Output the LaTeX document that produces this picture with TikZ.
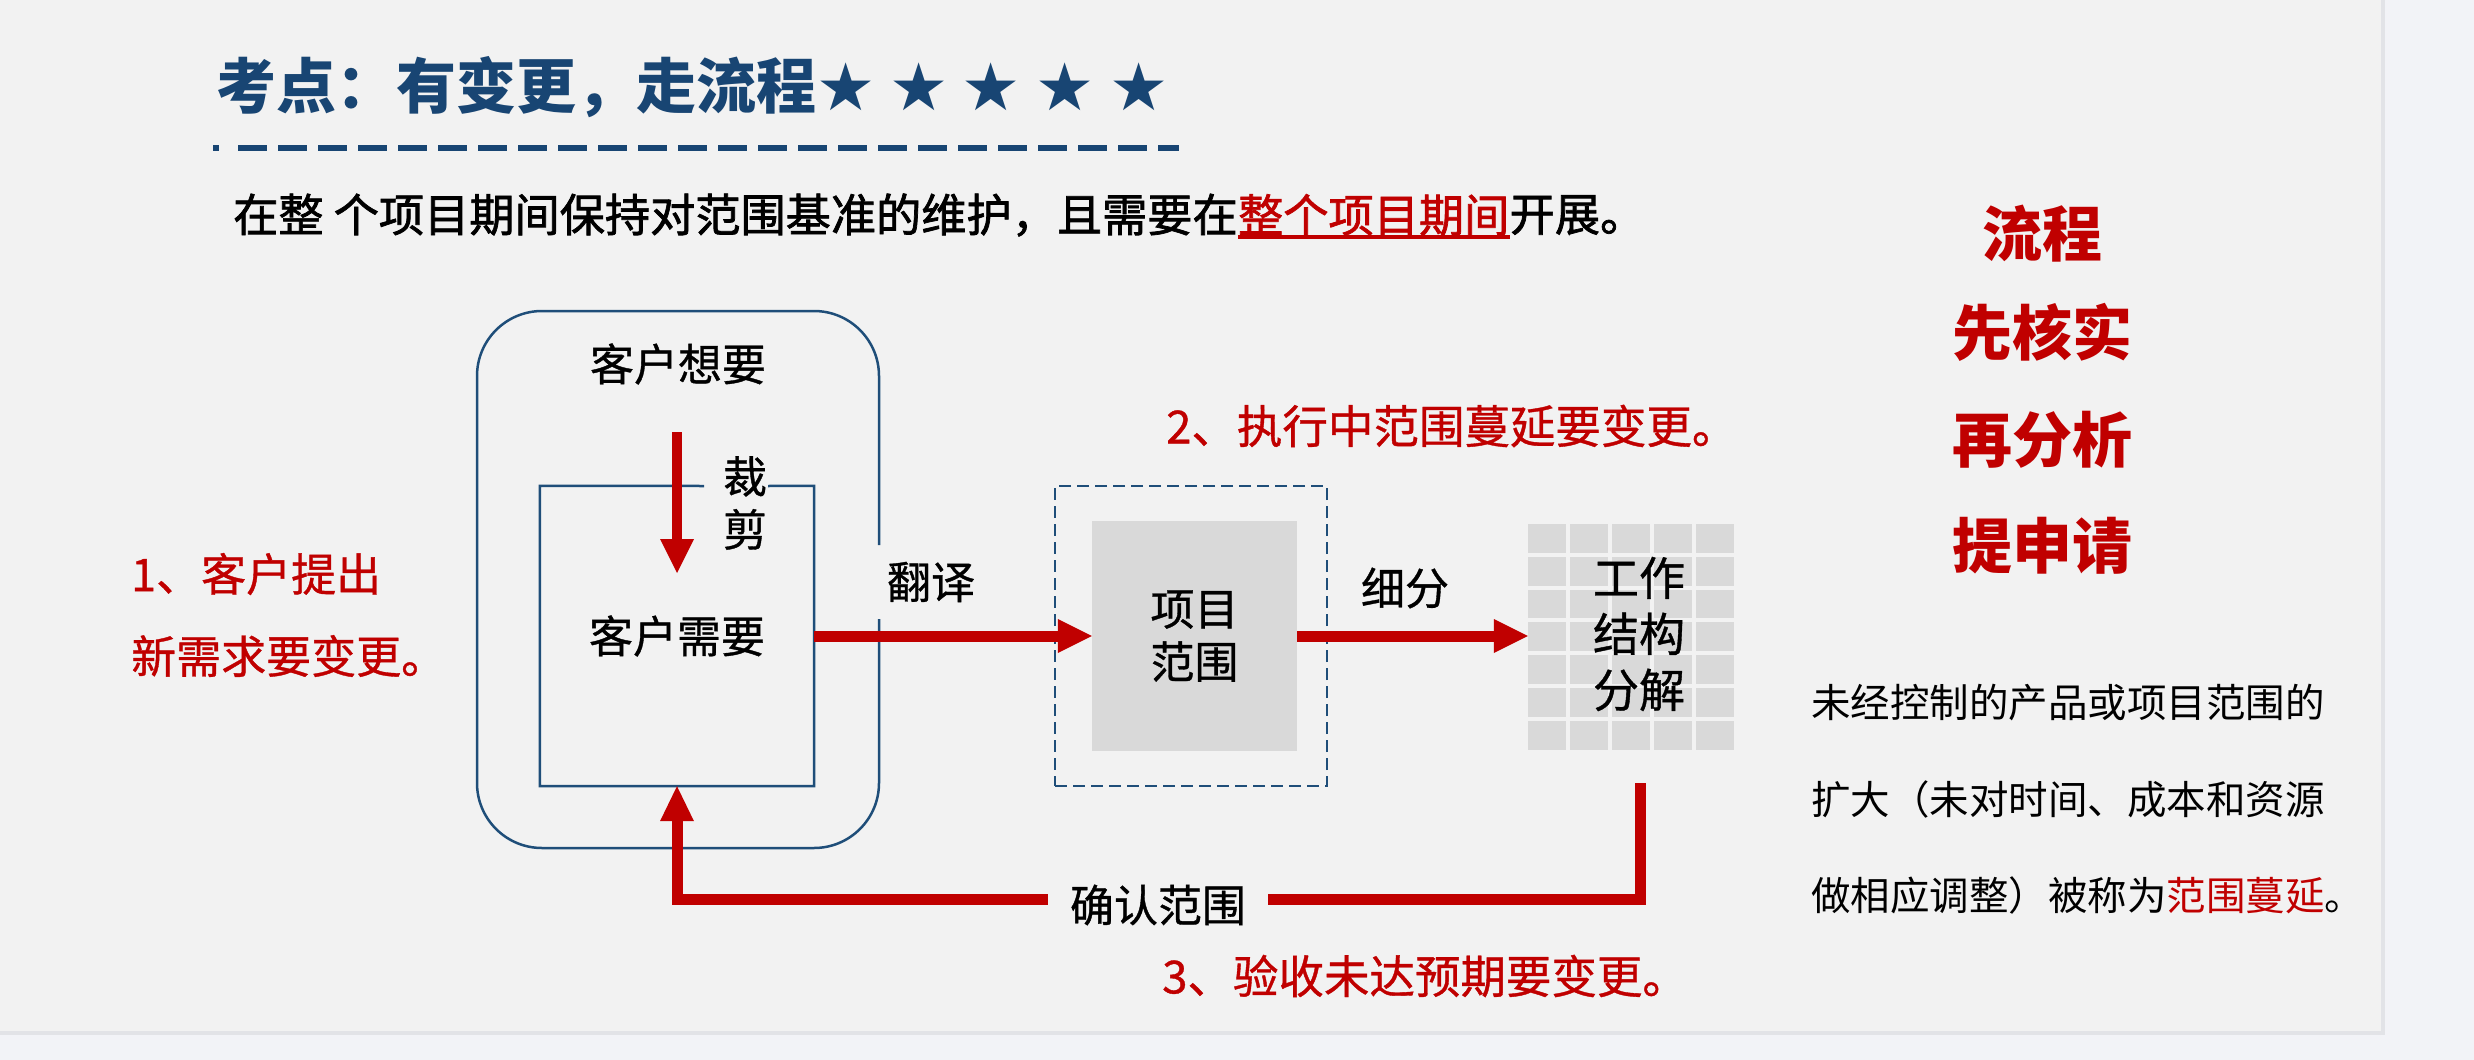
\documentclass[tikz,border=0pt]{standalone}
\usepackage{fontspec}
\setmainfont{Noto Sans CJK SC}
\newfontfamily\symfont{DejaVu Sans}
\newfontfamily\medfont[FakeBold=0.8]{Noto Sans CJK SC}
\newfontfamily\semifont[FakeBold=1.6]{Noto Sans CJK SC}
\usetikzlibrary{arrows.meta}
\definecolor{bluedk}{RGB}{31,78,121}
\definecolor{titleblue}{RGB}{24,69,115}
\definecolor{redc}{RGB}{192,0,0}
\definecolor{grayc}{RGB}{217,217,217}
\definecolor{panelc}{RGB}{242,242,242}
\definecolor{outerc}{RGB}{242,243,247}
\definecolor{shadowc}{RGB}{226,227,231}
\newcommand{\myfs}[2]{\fontsize{#1}{#2}\selectfont}
\begin{document}
\begin{tikzpicture}[x=1pt,y=-1pt,
  blueline/.style={draw=bluedk,line width=2.5pt},
  lbl/.style={inner sep=0pt,font=\medfont\myfs{44}{53}},
  redlbl/.style={inner sep=0pt,text=redc,font=\medfont\myfs{45.5}{52}},
  bigarrow/.style={draw=redc,line width=11pt,-{Triangle[length=34pt,width=34pt,line width=0pt]}},
  steplist/.style={inner sep=0pt,text=redc,font=\bfseries\myfs{60}{60}},
  deftext/.style={inner sep=0pt,anchor=west,font=\myfs{39.5}{40}},
  subtext/.style={inner sep=0pt,anchor=west,font=\semifont\myfs{45.2}{46}},
  starnode/.style={inner sep=0pt,text=titleblue,font=\symfont\myfs{66}{66}}]
\useasboundingbox (0,0) rectangle (2474,1060);
\fill[outerc] (0,0) rectangle (2474,1060);
\fill[shadowc] (0,0) rectangle (2385,1035);
\fill[panelc] (0,0) rectangle (2381,1031);

% title
\node[inner sep=0pt,anchor=west,text=titleblue,font=\bfseries\myfs{60}{60}] (title) at (216,87) {考点：有变更，走流程};
\foreach \sx [count=\i] in {846,919,991,1065,1139}
  \node[starnode] (star\i) at (\sx,87) {★};
\draw[titleblue,line width=6pt] (213,148) -- (219,148);
\draw[titleblue,line width=6pt,dash pattern=on 29pt off 11pt] (238,148) -- (1179,148);

% subtitle
\node[subtext] (subA) at (233,215) {在整 个项目期间保持对范围基准的维护，且需要在};
\node[subtext,text=redc] (subB) at (subA.east) {整个项目期间};
\node[subtext] (subC) at (subB.east) {开展。};
\draw[redc,line width=3.5pt] ([yshift=-1pt]subB.south west) -- ([yshift=-1pt]subB.south east);

% customer boxes
\draw[blueline,rounded corners=65pt] (879,545) -- (879,311) -- (477,311) -- (477,848) -- (879,848) -- (879,619);
\node[lbl] (want) at (678,364) {客户想要};
\node[lbl,minimum width=274pt,minimum height=300pt] (need) at (677,636) {客户需要};
\draw[blueline] (704,486) -- (need.north west) -- (need.south west) -- (need.south east) -- (need.north east) -- (768,486);
\node[lbl,align=center] (cut) at (745,503) {裁\\剪};
\coordinate (cutA) at (677,432);
\coordinate (cutB) at (677,573);
\draw[bigarrow,line width=10pt] (cutA) -- (cutB);

% project scope
\node[draw=bluedk,line width=2pt,dash pattern=on 12pt off 6pt,minimum width=272pt,minimum height=300pt,inner sep=0pt] (scopeframe) at (1191,636) {};
\node[lbl,fill=grayc,minimum width=205pt,minimum height=230pt,align=center] (scope) at (1194.5,636) {项目\\范围};
\draw[bigarrow] (need.east) -- (scope.west);
\node[lbl] (translate) at (931,582) {翻译};

% WBS
\node[minimum width=206pt,minimum height=226pt,inner sep=0pt] (wbs) at (1631,636) {};
\foreach \i in {0,...,4}
  \foreach \j in {0,...,6}
    \fill[grayc] ({1528+42*\i},{524+32.8*\j}) rectangle ++(38,28.7);
\node[lbl,align=center,font=\medfont\myfs{46}{56}] (wbstxt) at (1639,634) {工作\\结构\\分解};
\draw[bigarrow] (scope.east) -- (wbs.west);
\node[lbl] (subdiv) at (1405,588) {细分};

% feedback
\coordinate (fbstart) at (1640,783);
\draw[redc,line width=11pt,-{Triangle[length=35pt,width=34pt,line width=0pt]}] (fbstart) -- (1640,899) -- (677,899) -- (need.south);
\node[lbl,fill=panelc,inner xsep=22pt,inner ysep=4pt] (confirm) at (1158,905) {确认范围};

% red notes
\node[redlbl,anchor=west] (note2) at (1166,426) {2、执行中范围蔓延要变更。};
\node[redlbl,anchor=west] (note3) at (1162,976) {3、验收未达预期要变更。};
\node[redlbl,anchor=west,font=\medfont\myfs{45}{45}] (note1a) at (131,574) {1、客户提出};
\node[redlbl,anchor=west,font=\medfont\myfs{45}{45}] (note1b) at (131,656) {新需求要变更。};

% right steps
\node[steplist] (s1) at (2042,234) {流程};
\node[steplist] (s2) at (2042,332) {先核实};
\node[steplist] (s3) at (2042,440) {再分析};
\node[steplist] (s4) at (2042,546) {提申请};

% definition
\node[deftext] (d1) at (1811,703) {未经控制的产品或项目范围的};
\node[deftext] (d2) at (1811,799) {扩大（未对时间、成本和资源};
\node[deftext] (d3) at (1811,895) {做相应调整）被称为\textcolor{redc}{范围蔓延}。};
\end{tikzpicture}
\end{document}
